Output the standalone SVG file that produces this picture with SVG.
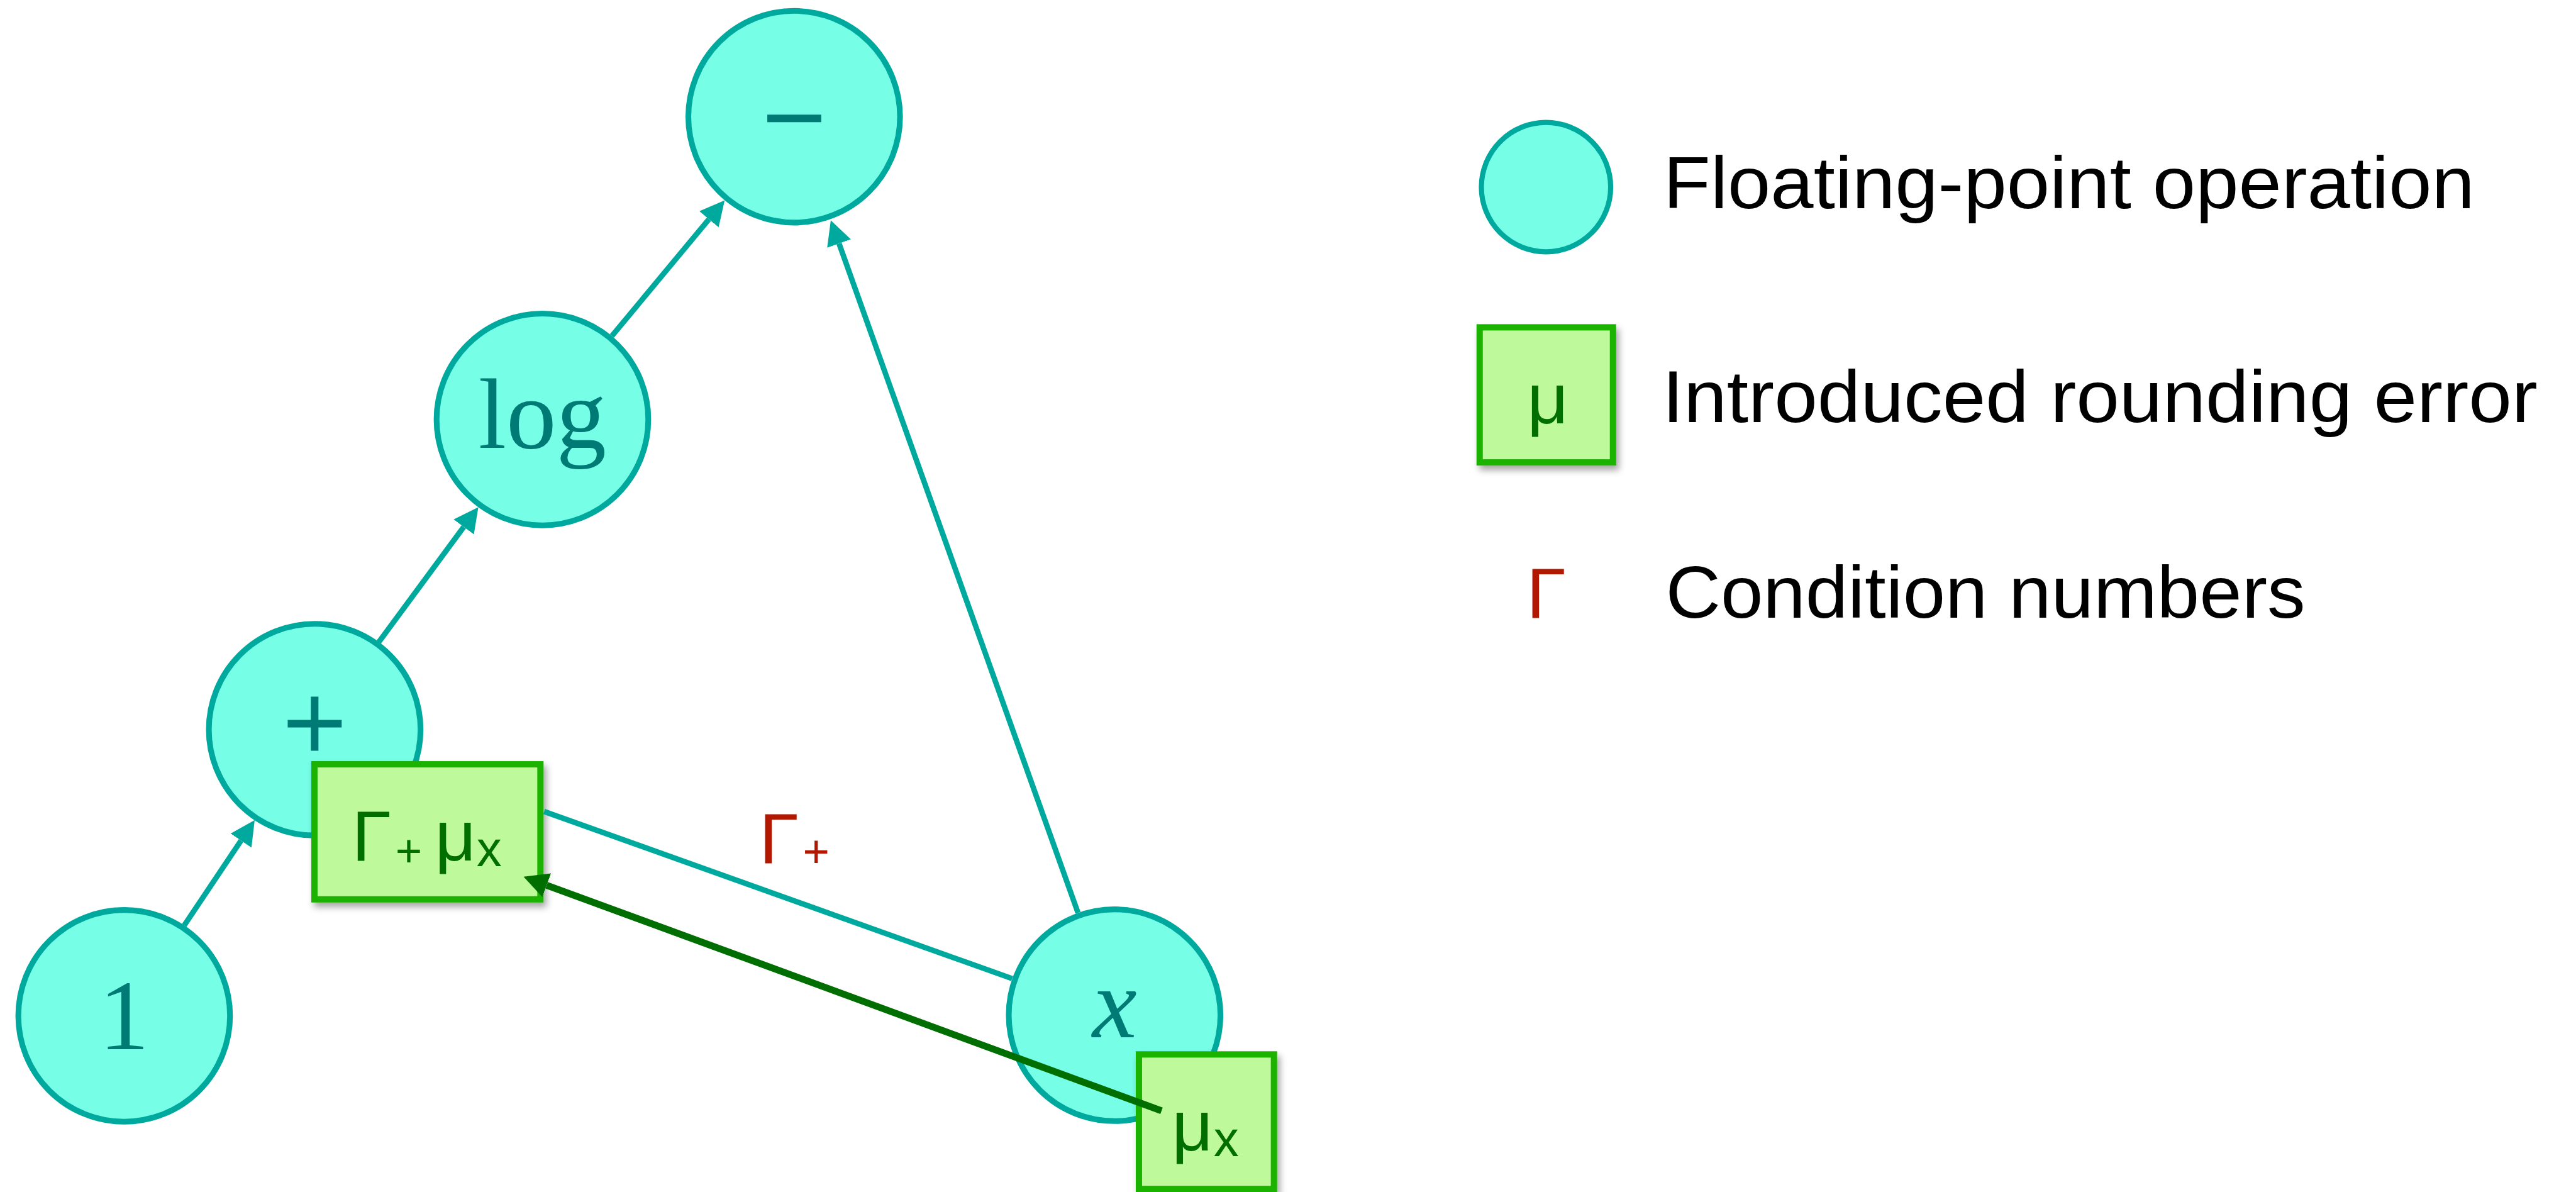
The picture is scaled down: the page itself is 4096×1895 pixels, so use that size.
<svg xmlns="http://www.w3.org/2000/svg" width="4096" height="1895" viewBox="0 0 4096 1895">
  <defs>
    <style>
      .op circle { fill: #76FEE7; stroke: #00A99E; stroke-width: 10; }
      .op text { font-family: "Liberation Serif", "Times New Roman", serif; font-size: 175px; fill: #007A74; text-anchor: middle; }
      .op text.sym { font-size: 195px; stroke: #007A74; stroke-width: 3.5; }
      .err rect { fill: #BEF99C; stroke: #1DB300; stroke-width: 11; filter: url(#shadow); }
      .err text, .cond text { font-family: "Liberation Sans", Arial, sans-serif; font-size: 125px; fill: #006E00; }
      .sub { font-size: 80px; }
      .subx { font-size: 88px; }
      .cond text { fill: #B21800; }
      .edge { fill: none; stroke: #00A99E; stroke-width: 9.5; }
      .edge.arrow { marker-end: url(#arrow-teal); }
      .edge-err { fill: none; stroke: #006E00; stroke-width: 12; marker-end: url(#arrow-green); }
      .legend text.caption { font-family: "Liberation Sans", Arial, sans-serif; font-size: 128px; fill: #000000; }
      .legend circle { fill: #76FEE7; stroke: #00A99E; stroke-width: 9; }
    </style>
    <filter id="shadow" x="-20%" y="-20%" width="150%" height="150%">
      <feDropShadow dx="5" dy="8" stdDeviation="6" flood-color="#000000" flood-opacity="0.35"/>
    </filter>
    <marker id="arrow-teal" markerUnits="userSpaceOnUse" viewBox="0 0 44 44" markerWidth="44" markerHeight="44" refX="0" refY="22" orient="auto">
      <path d="M0,0 L43,22 L0,44 Z" fill="#00A99E"/>
    </marker>
    <marker id="arrow-green" markerUnits="userSpaceOnUse" viewBox="0 0 44 44" markerWidth="44" markerHeight="44" refX="0" refY="22" orient="auto">
      <path d="M0,0 L43,22 L0,44 Z" fill="#006E00"/>
    </marker>
  </defs>

  <rect width="4096" height="1895" fill="#FFFFFF"/>

  <g transform="scale(0.9098)">
    <!-- operation nodes -->
    <g id="node-minus" class="op">
      <circle cx="1388" cy="204" r="185"/>
      <text class="sym" x="1388" y="272">−</text>
    </g>
    <g id="node-log" class="op">
      <circle cx="948" cy="733" r="185"/>
      <text x="948" y="783">log</text>
    </g>
    <g id="node-plus" class="op">
      <circle cx="550" cy="1275" r="185"/>
      <text class="sym" x="550" y="1330">+</text>
    </g>
    <g id="node-one" class="op">
      <circle cx="217" cy="1775" r="185"/>
      <text x="217" y="1833">1</text>
    </g>
    <g id="node-x" class="op">
      <circle cx="1948" cy="1774" r="185"/>
      <text x="1948" y="1813" font-style="italic">x</text>
    </g>

    <!-- rounding-error boxes -->
    <g id="error-plus" class="err">
      <rect x="549.5" y="1335.5" width="395" height="236"/>
      <text><tspan x="615" y="1504">Γ</tspan><tspan class="sub" x="691" y="1513">+</tspan><tspan x="760" y="1504">μ</tspan><tspan class="subx" x="833" y="1513">x</tspan></text>
    </g>
    <g id="error-x" class="err">
      <rect x="1990.5" y="1842.5" width="236" height="235"/>
      <text><tspan x="2048" y="2010">μ</tspan><tspan class="subx" x="2121" y="2020">x</tspan></text>
    </g>

    <!-- condition number on the x to + edge -->
    <g id="label-gamma-plus" class="cond">
      <text><tspan x="1327" y="1508">Γ</tspan><tspan class="sub" x="1403" y="1515">+</tspan></text>
    </g>

    <!-- connectors -->
    <g id="connectors">
      <line class="edge arrow" x1="322" y1="1617" x2="421.2" y2="1468.8"/>
      <line class="edge arrow" x1="662" y1="1122" x2="810.5" y2="920.7"/>
      <line class="edge arrow" x1="1069.5" y1="587" x2="1239" y2="383.1"/>
      <line class="edge arrow" x1="1884" y1="1595" x2="1466.4" y2="425.5"/>
      <line class="edge" x1="1769" y1="1710" x2="951" y2="1418"/>
      <line class="edge-err" x1="2030" y1="1941" x2="955.4" y2="1546.8"/>
    </g>

    <!-- legend -->
    <g id="legend" class="legend">
      <g id="legend-op">
        <circle cx="2702" cy="327" r="113"/>
        <text class="caption" x="2907" y="364" textLength="1418" lengthAdjust="spacingAndGlyphs">Floating-point operation</text>
      </g>
      <g id="legend-err" class="err">
        <rect x="2586" y="572" width="233" height="236"/>
        <text x="2705" y="740" text-anchor="middle">μ</text>
        <text class="caption" x="2905" y="737" textLength="1530" lengthAdjust="spacingAndGlyphs">Introduced rounding error</text>
      </g>
      <g id="legend-cond" class="cond">
        <text x="2668" y="1079">Γ</text>
      </g>
      <text class="caption" x="2911" y="1079" textLength="1118" lengthAdjust="spacingAndGlyphs">Condition numbers</text>
    </g>
  </g>
</svg>
